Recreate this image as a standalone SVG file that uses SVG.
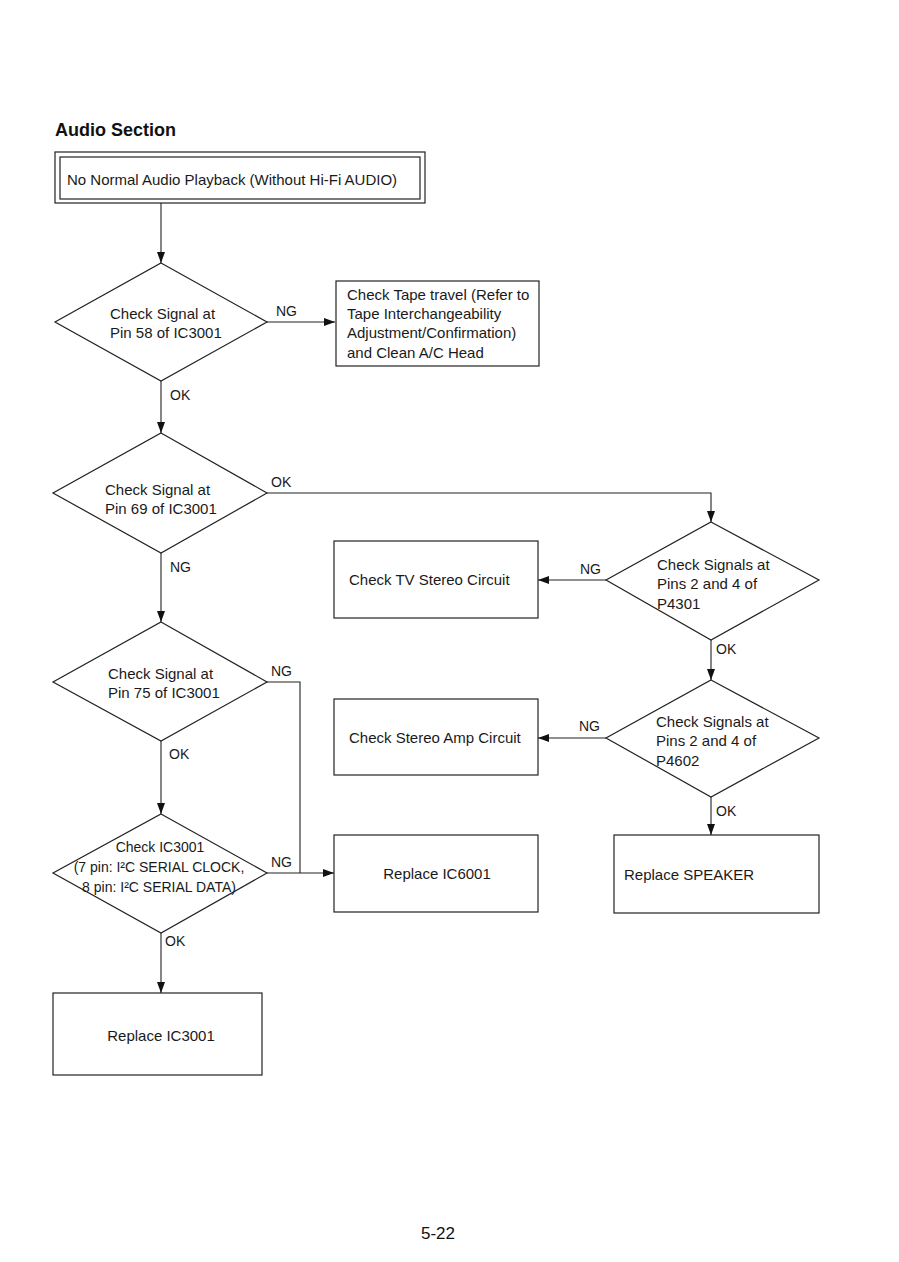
<svg xmlns="http://www.w3.org/2000/svg" width="899" height="1262" viewBox="0 0 899 1262">
<style>
.t{font-family:"Liberation Sans",Arial,sans-serif;font-size:15px;fill:#1a1a1a}
.s{font-size:14px}
.c{text-anchor:middle}
.b{fill:#fff;stroke:#222;stroke-width:1.2}
.l{fill:none;stroke:#222;stroke-width:1.1}
</style>
<defs>
<marker id="ah" markerUnits="userSpaceOnUse" markerWidth="12" markerHeight="8" refX="11" refY="4" orient="auto">
<path d="M0,0 L11,4 L0,8 z" fill="#111"/>
</marker>
</defs>
<rect width="899" height="1262" fill="#fff"/>
<text x="55" y="136" font-family="Liberation Sans,Arial,sans-serif" font-size="18" font-weight="bold" fill="#111">Audio Section</text>

<g id="connectors">
<path class="l" d="M161,203 V263" marker-end="url(#ah)"/>
<path class="l" d="M267,322 H335" marker-end="url(#ah)"/>
<path class="l" d="M161,381 V433" marker-end="url(#ah)"/>
<path class="l" d="M267,493 H711 V522" marker-end="url(#ah)"/>
<path class="l" d="M606,580 H538" marker-end="url(#ah)"/>
<path class="l" d="M711,640 V680" marker-end="url(#ah)"/>
<path class="l" d="M606,738 H538" marker-end="url(#ah)"/>
<path class="l" d="M711,797 V835" marker-end="url(#ah)"/>
<path class="l" d="M161,553 V622" marker-end="url(#ah)"/>
<path class="l" d="M267,682 H300 V873"/>
<path class="l" d="M161,741 V814" marker-end="url(#ah)"/>
<path class="l" d="M267,873 H334" marker-end="url(#ah)"/>
<path class="l" d="M161,933 V993" marker-end="url(#ah)"/>
<text class="t s" x="276" y="316">NG</text>
<text class="t s" x="170" y="400">OK</text>
<text class="t s" x="271" y="487">OK</text>
<text class="t s" x="580" y="574">NG</text>
<text class="t s" x="716" y="654">OK</text>
<text class="t s" x="579" y="731">NG</text>
<text class="t s" x="716" y="816">OK</text>
<text class="t s" x="170" y="572">NG</text>
<text class="t s" x="271" y="676">NG</text>
<text class="t s" x="169" y="759">OK</text>
<text class="t s" x="271" y="867">NG</text>
<text class="t s" x="165" y="946">OK</text>
</g>

<g id="start">
<rect class="b" x="55" y="152" width="370" height="51"/>
<rect class="b" x="60" y="157" width="360" height="42"/>
<text class="t" x="67" y="185">No Normal Audio Playback (Without Hi-Fi AUDIO)</text>
</g>

<g id="d1">
<polygon class="b" points="161,263 267,322 161,381 55,322"/>
<text class="t" x="110" y="319">Check Signal at</text>
<text class="t" x="110" y="338">Pin 58 of IC3001</text>
</g>

<g id="tape">
<rect class="b" x="336" y="281" width="203" height="85"/>
<text class="t" x="347" y="300">Check Tape travel (Refer to</text>
<text class="t" x="347" y="319">Tape Interchangeability</text>
<text class="t" x="347" y="338">Adjustment/Confirmation)</text>
<text class="t" x="347" y="358">and Clean A/C Head</text>
</g>

<g id="d2">
<polygon class="b" points="161,433 267,493 161,553 53,493"/>
<text class="t" x="105" y="495">Check Signal at</text>
<text class="t" x="105" y="514">Pin 69 of IC3001</text>
</g>

<g id="d3">
<polygon class="b" points="711,522 819,580 711,640 606,580"/>
<text class="t" x="657" y="570">Check Signals at</text>
<text class="t" x="657" y="589">Pins 2 and 4 of</text>
<text class="t" x="657" y="609">P4301</text>
</g>

<g id="tvstereo">
<rect class="b" x="334" y="541" width="204" height="77"/>
<text class="t" x="349" y="585">Check TV Stereo Circuit</text>
</g>

<g id="d4">
<polygon class="b" points="711,680 819,738 711,797 606,738"/>
<text class="t" x="656" y="727">Check Signals at</text>
<text class="t" x="656" y="746">Pins 2 and 4 of</text>
<text class="t" x="656" y="766">P4602</text>
</g>

<g id="stereoamp">
<rect class="b" x="334" y="699" width="204" height="76"/>
<text class="t" x="349" y="743">Check Stereo Amp Circuit</text>
</g>

<g id="speaker">
<rect class="b" x="614" y="835" width="205" height="78"/>
<text class="t" x="624" y="880">Replace SPEAKER</text>
</g>

<g id="ic6001">
<rect class="b" x="334" y="835" width="204" height="77"/>
<text class="t c" x="437" y="879">Replace IC6001</text>
</g>

<g id="d5">
<polygon class="b" points="161,622 267,682 161,741 53,682"/>
<text class="t" x="108" y="679">Check Signal at</text>
<text class="t" x="108" y="698">Pin 75 of IC3001</text>
</g>

<g id="d6">
<polygon class="b" points="161,814 267,873 161,933 53,873"/>
<text class="t s c" x="160" y="852">Check IC3001</text>
<text class="t s c" x="159" y="872">(7 pin: I²C SERIAL CLOCK,</text>
<text class="t s c" x="159" y="892">8 pin: I²C SERIAL DATA)</text>
</g>

<g id="ic3001">
<rect class="b" x="53" y="993" width="209" height="82"/>
<text class="t c" x="161" y="1041">Replace IC3001</text>
</g>

<text x="438" y="1239" font-family="Liberation Sans,Arial,sans-serif" font-size="17" fill="#111" text-anchor="middle">5-22</text>
</svg>
